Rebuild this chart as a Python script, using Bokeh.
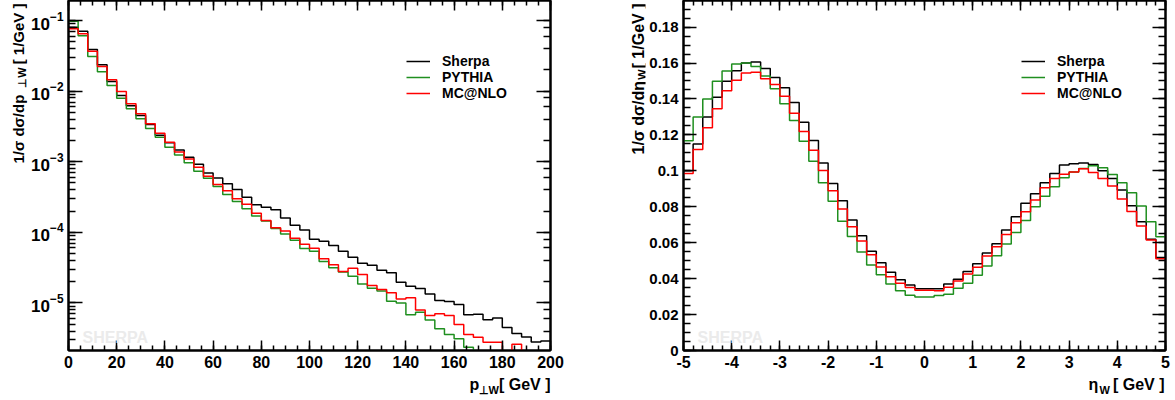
import numpy as np
from bokeh.plotting import figure
from bokeh.layouts import row, column
from bokeh.models import (Range1d, LinearAxis, LogAxis, SingleIntervalTicker, FixedTicker,
                          LogTicker, Label, Legend, LegendItem, CustomJSTickFormatter)
from bokeh.embed import file_html
from bokeh.resources import INLINE

FONT = "Liberation Sans"

# ---------------- data ----------------
pt_edges = [4 * i for i in range(51)]
eta_edges = [round(-5 + 0.2 * i, 1) for i in range(51)]

pt_sherpa = [0.080, 0.0705, 0.0388, 0.0236, 0.0137, 0.0087, 0.0062, 0.0045, 0.00337, 0.00237,
             0.00185, 0.00146, 0.00116, 0.00092, 0.00069, 0.00059, 0.000486, 0.000404, 0.000315, 0.000245,
             0.000227, 0.000208, 0.00016, 0.000126, 0.000108, 0.00008, 0.0000748, 0.000065, 0.0000541, 0.0000445,
             0.0000366, 0.0000342, 0.0000291, 0.0000267, 0.0000197, 0.0000173, 0.000016, 0.0000134, 0.0000108, 0.0000105,
             0.0000095, 0.0000068, 0.0000069, 0.0000058, 0.0000061, 0.0000045, 0.0000037, 0.0000033, 0.0000028, 0.0000029]
pt_pythia = [0.0977, 0.0607, 0.0309, 0.0188, 0.012, 0.00794, 0.00562, 0.00406, 0.00295, 0.00222,
             0.0016, 0.00124, 0.000964, 0.000734, 0.000585, 0.000445, 0.000343, 0.000273, 0.000215, 0.000171,
             0.000145, 0.000113, 0.000095, 0.0000774, 0.000059, 0.0000541, 0.0000386, 0.0000314, 0.0000275, 0.0000239,
             0.0000186, 0.0000162, 0.0000147, 0.0000106, 0.0000100, 0.00000678, 0.0000074, 0.00000575, 0.0000043, 0.00000357,
             0.0000031, 0.00000236, 0, 0, 0, 0, 0, 0, 0, 0]
pt_mcnlo = [0.0762, 0.0648, 0.0367, 0.0223, 0.01445, 0.00987, 0.0066, 0.00477, 0.00344, 0.00253,
            0.00189, 0.00137, 0.00109, 0.000837, 0.000624, 0.000475, 0.000387, 0.000298, 0.00025, 0.000187,
            0.000147, 0.000116, 0.000104, 0.0000826, 0.0000679, 0.0000596, 0.0000421, 0.0000346, 0.0000279, 0.000031,
            0.0000252, 0.0000177, 0.0000155, 0.0000139, 0.0000114, 0.0000118, 0.00000797, 0.00000663, 0.0000070, 0.00000663,
            0.00000494, 0.00000357, 0.00000327, 0.00000278, 0.00000278, 0, 0.0000026, 0, 0, 0]

eta_sherpa = [0.100, 0.115, 0.130, 0.141, 0.1498, 0.1557, 0.160, 0.1606, 0.157, 0.152,
              0.1463, 0.138, 0.127, 0.1169, 0.1044, 0.093, 0.0833, 0.0726, 0.0639, 0.0552,
              0.0489, 0.0435, 0.0394, 0.0365, 0.0343, 0.0344, 0.0343, 0.037, 0.0396, 0.0439,
              0.0483, 0.0543, 0.0594, 0.067, 0.0744, 0.0819, 0.0872, 0.0933, 0.0985, 0.1033,
              0.1039, 0.1044, 0.1035, 0.100, 0.0957, 0.0893, 0.0806, 0.0717, 0.0619, 0.0517]
eta_pythia = [0.1167, 0.130, 0.140, 0.1498, 0.1556, 0.1594, 0.160, 0.158, 0.1528, 0.1457,
              0.1374, 0.128, 0.1165, 0.1054, 0.0933, 0.083, 0.0719, 0.0635, 0.0548, 0.0476,
              0.0422, 0.037, 0.0333, 0.0307, 0.0298, 0.0298, 0.0306, 0.0313, 0.0346, 0.0374,
              0.0419, 0.047, 0.0528, 0.0593, 0.0657, 0.0724, 0.080, 0.0859, 0.0911, 0.0961,
              0.0994, 0.1013, 0.1028, 0.1017, 0.098, 0.0933, 0.0878, 0.0804, 0.0717, 0.0633]
eta_mcnlo = [0.0985, 0.1119, 0.124, 0.1346, 0.1446, 0.1504, 0.1544, 0.1548, 0.1513, 0.148,
             0.1415, 0.132, 0.1219, 0.1115, 0.1002, 0.0889, 0.0787, 0.0689, 0.0609, 0.0533,
             0.0465, 0.0411, 0.0374, 0.035, 0.0335, 0.0335, 0.0333, 0.0352, 0.0387, 0.0426,
             0.0463, 0.0526, 0.0578, 0.0646, 0.0711, 0.0772, 0.0837, 0.0906, 0.0957, 0.0981,
             0.0994, 0.1011, 0.0991, 0.0957, 0.0915, 0.0843, 0.0774, 0.0693, 0.0615, 0.0511]

series_names = ["Sherpa", "PYTHIA", "MC@NLO"]
series_colors = ["#000000", "#1f8f1f", "#ff0000"]

eta_yticks = [0, 0.02, 0.04, 0.06, 0.08, 0.1, 0.12, 0.14, 0.16, 0.18]
eta_ylabels = ["0", "0.02", "0.04", "0.06", "0.08", "0.1", "0.12", "0.14", "0.16", "0.18"]

blank = CustomJSTickFormatter(code="return ''")
plain_int = CustomJSTickFormatter(code="return tick.toFixed(0)")


def style_axis(ax, major_in, minor_in, size, labels=True):
    ax.axis_line_width = 2
    ax.axis_line_color = "black"
    ax.major_tick_in = major_in
    ax.major_tick_out = 0
    ax.minor_tick_in = minor_in
    ax.minor_tick_out = 0
    ax.major_tick_line_width = 1.5
    ax.minor_tick_line_width = 1.5
    ax.major_tick_line_color = "black"
    ax.minor_tick_line_color = "black"
    ax.major_label_text_font = FONT
    ax.major_label_text_font_style = "bold"
    ax.major_label_text_color = "black"
    ax.major_label_text_font_size = size
    ax.major_label_standoff = 5
    if not labels:
        ax.formatter = blank
        ax.major_label_text_font_size = "1px"
        ax.major_label_text_alpha = 0
        ax.major_label_standoff = 0


def add_label(p, text, x, y, size, angle=0.0, align="left", color="black"):
    p.add_layout(Label(x=x, y=y, x_units="screen", y_units="screen", text=text, angle=angle,
                       text_font=FONT, text_font_style="bold", text_font_size=size,
                       text_color=color, text_align=align, text_baseline="alphabetic"))


def make_fig(width, left, right, xr, yr, ylog):
    p = figure(width=width, height=375, output_backend="svg", toolbar_location=None, title=None,
               x_range=xr, y_range=yr, y_axis_type="log" if ylog else "linear",
               min_border_left=left, min_border_right=right, min_border_top=0, min_border_bottom=25)
    p.xgrid.visible = False
    p.ygrid.visible = False
    p.outline_line_color = "black"
    p.outline_line_width = 2
    p.background_fill_color = "white"
    p.border_fill_color = "white"
    return p


def text_fig(width, height, left=1, right=1, top=1, bottom=1):
    t = figure(width=width, height=height, output_backend="svg", toolbar_location=None, title=None,
               x_range=Range1d(0, 1), y_range=Range1d(0, 1), min_border=1, min_border_left=left,
               min_border_right=right, min_border_top=top, min_border_bottom=bottom,
               x_axis_location=None, y_axis_location=None)
    t.xgrid.visible = False
    t.ygrid.visible = False
    t.outline_line_color = None
    t.background_fill_color = "white"
    t.border_fill_color = "white"
    return t


def add_legend(p, renderers):
    leg = Legend(items=[LegendItem(label=n, renderers=[r]) for n, r in zip(series_names, renderers)],
                 location=(338, 249), padding=0, margin=0, spacing=-2, glyph_width=24, glyph_height=14,
                 label_height=14, label_standoff=12, label_text_font=FONT, label_text_font_style="bold",
                 label_text_font_size="14px", label_text_color="black",
                 border_line_alpha=0, background_fill_alpha=0)
    p.add_layout(leg)


a = np.pi / 2

# ---------------- left: pT ----------------
p1 = make_fig(572, 39, 50, Range1d(0, 200), Range1d(2.12e-6, 0.192), True)
r1 = []
for vals, col in zip([pt_sherpa, pt_pythia, pt_mcnlo], series_colors):
    arr = np.array(vals + [vals[-1]], dtype=float)
    arr = np.where(arr > 0, arr, 1e-9)
    r1.append(p1.step(x=pt_edges, y=arr, mode="after", line_color=col, line_width=1.5))

p1.xaxis.ticker = SingleIntervalTicker(interval=20, num_minor_ticks=4)
style_axis(p1.xaxis[0], 10, 5, "16px")
style_axis(p1.yaxis[0], 14, 7, "17px")
top1 = LinearAxis(ticker=SingleIntervalTicker(interval=20, num_minor_ticks=4))
style_axis(top1, 10, 5, "1px", labels=False)
p1.add_layout(top1, "above")
right1 = LogAxis(ticker=LogTicker())
style_axis(right1, 14, 7, "1px", labels=False)
p1.add_layout(right1, "right")
add_legend(p1, r1)
add_label(p1, "SHERPA", 14, 13, "16px", color="#ebebeb")

# y title of left panel (own strip; frame spans canvas y 1..350)
yt1 = text_fig(28, 400, bottom=50)
add_label(yt1, "1/\u03c3 d\u03c3/dp", 17, 187, "15px", angle=a)
add_label(yt1, "\u22a5W", 20, 273, "11px", angle=a, align="center")
add_label(yt1, "[ 1/GeV ]", 17, 347, "15px", angle=a, align="right")

# x title of left panel (strip under it; frame spans canvas x 67..550)
xt1 = text_fig(572, 25, left=39, right=50)
add_label(xt1, "p", 401, 15, "16px")
add_label(xt1, "\u22a5W", 410, 10, "11px")
add_label(xt1, "[ GeV ]", 482, 15, "16px", align="right")

# ---------------- right: eta ----------------
p2 = make_fig(529, 37, 10, Range1d(-5, 5), Range1d(0, 0.1948), False)
r2 = []
for vals, col in zip([eta_sherpa, eta_pythia, eta_mcnlo], series_colors):
    r2.append(p2.step(x=eta_edges, y=vals + [vals[-1]], mode="after", line_color=col, line_width=1.5))

minor_eta_y = [i * 0.005 for i in range(40)]
p2.xaxis.ticker = SingleIntervalTicker(interval=1, num_minor_ticks=5)
p2.xaxis.formatter = plain_int
p2.yaxis.ticker = FixedTicker(ticks=eta_yticks, minor_ticks=minor_eta_y)
p2.yaxis.major_label_overrides = dict(zip(eta_yticks, eta_ylabels))
style_axis(p2.xaxis[0], 10, 5, "16px")
style_axis(p2.yaxis[0], 13, 7, "15px")
top2 = LinearAxis(ticker=SingleIntervalTicker(interval=1, num_minor_ticks=5))
style_axis(top2, 10, 5, "1px", labels=False)
p2.add_layout(top2, "above")
right2 = LinearAxis(ticker=FixedTicker(ticks=eta_yticks, minor_ticks=minor_eta_y))
style_axis(right2, 13, 7, "1px", labels=False)
p2.add_layout(right2, "right")
add_legend(p2, r2)
add_label(p2, "SHERPA", 14, 13, "16px", color="#ebebeb")

yt2 = text_fig(46, 400, bottom=50)
add_label(yt2, "1/\u03c3 d\u03c3/d\u03b7", 37, 196, "16px", angle=a)
add_label(yt2, "W", 40, 276, "11px", angle=a, align="center")
add_label(yt2, "[ 1/GeV ]", 37, 347, "16px", angle=a, align="right")

xt2 = text_fig(529, 25, left=37, right=10)
add_label(xt2, "\u03b7", 405, 15, "16px")
add_label(xt2, "W", 416, 10, "11px")
add_label(xt2, "[ GeV ]", 481, 15, "16px", align="right")

layout = row(yt1, column(p1, xt1), yt2, column(p2, xt2))
open("out.html", "w").write(file_html(layout, INLINE))
